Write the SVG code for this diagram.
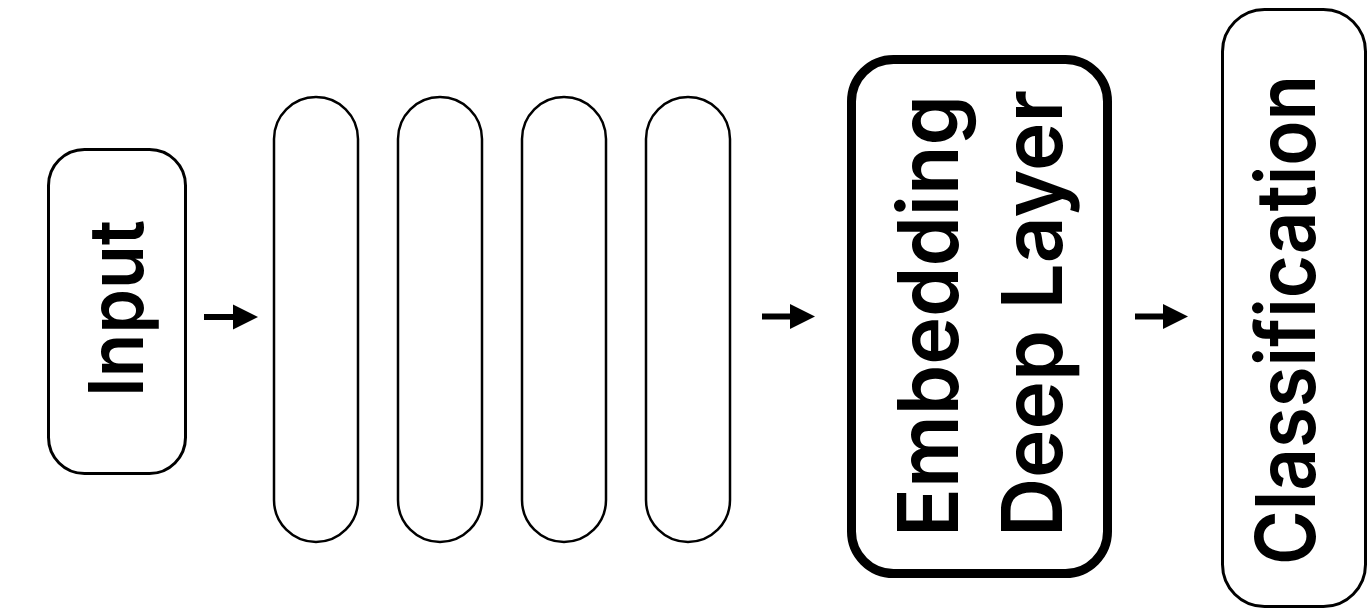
<svg xmlns="http://www.w3.org/2000/svg" width="1369" height="609" viewBox="0 0 1369 609">
  <style>
    .box { fill: #ffffff; stroke: #000000; }
    .thin { stroke-width: 3; }
    .pill { stroke-width: 2.5; }
    .bold { stroke-width: 9; }
    .label { font-family: Inter, Roboto, "Liberation Sans", Arial, sans-serif; font-weight: 600; fill: #000000; text-anchor: middle; }
    .shaft { stroke: #000000; stroke-width: 6; fill: none; }
    .head { fill: #000000; stroke: none; }
  </style>
  <rect width="1369" height="609" fill="#ffffff"/>

  <g id="input">
    <rect class="box thin" x="48.5" y="149.5" width="137" height="324" rx="36" ry="36"/>
    <text class="label" font-size="76" transform="translate(143,308.5) rotate(-90)" textLength="177" lengthAdjust="spacingAndGlyphs">Input</text>
  </g>

  <g id="layer1">
    <rect class="box pill" x="274" y="97" width="84" height="445" rx="42" ry="42"/>
  </g>
  <g id="layer2">
    <rect class="box pill" x="398" y="97" width="84" height="445" rx="42" ry="42"/>
  </g>
  <g id="layer3">
    <rect class="box pill" x="522" y="97" width="84" height="445" rx="42" ry="42"/>
  </g>
  <g id="layer4">
    <rect class="box pill" x="646" y="97" width="84" height="445" rx="42" ry="42"/>
  </g>

  <g id="embedding">
    <rect class="box bold" x="851.5" y="59.5" width="256" height="514" rx="42" ry="42"/>
    <text class="label" font-size="84" transform="translate(958,316) rotate(-90)" textLength="442" lengthAdjust="spacingAndGlyphs">Embedding</text>
    <text class="label" font-size="84" transform="translate(1062,313.5) rotate(-90)" textLength="447" lengthAdjust="spacingAndGlyphs">Deep Layer</text>
  </g>

  <g id="classification">
    <rect class="box thin" x="1222.5" y="9.5" width="143" height="597" rx="42" ry="42"/>
    <text class="label" font-size="82" transform="translate(1315,320) rotate(-90)" textLength="490" lengthAdjust="spacingAndGlyphs">Classification</text>
  </g>

  <g id="connectors">
    <line class="shaft" x1="204" y1="317" x2="235" y2="317"/>
    <polygon class="head" points="233,304.5 258,317 233,329.5"/>
    <line class="shaft" x1="762" y1="316.5" x2="792" y2="316.5"/>
    <polygon class="head" points="790,304 815,316.5 790,329"/>
    <line class="shaft" x1="1135" y1="316.5" x2="1165" y2="316.5"/>
    <polygon class="head" points="1163,304 1188,316.5 1163,329"/>
  </g>
</svg>
